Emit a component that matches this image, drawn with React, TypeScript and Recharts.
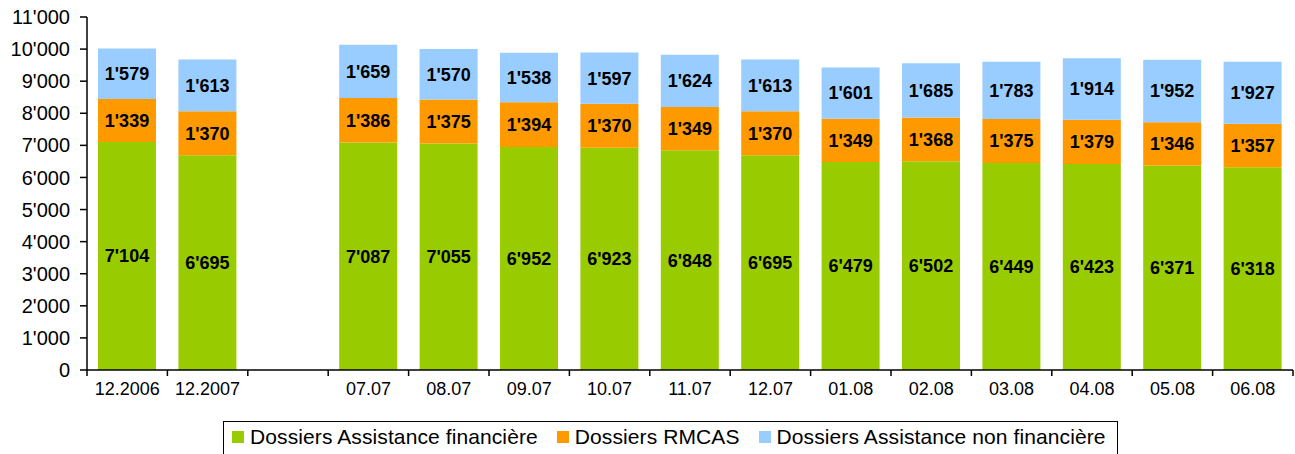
import { Bar, BarChart, LabelList, Legend, XAxis, YAxis } from "recharts";

const categories = [
	"12.2006",
	"12.2007",
	"",
	"07.07",
	"08.07",
	"09.07",
	"10.07",
	"11.07",
	"12.07",
	"01.08",
	"02.08",
	"03.08",
	"04.08",
	"05.08",
	"06.08",
];

const financiere = [
	7104, 6695, null, 7087, 7055, 6952, 6923, 6848, 6695, 6479, 6502, 6449, 6423,
	6371, 6318,
];
const rmcas = [
	1339, 1370, null, 1386, 1375, 1394, 1370, 1349, 1370, 1349, 1368, 1375, 1379,
	1346, 1357,
];
const nonFinanciere = [
	1579, 1613, null, 1659, 1570, 1538, 1597, 1624, 1613, 1601, 1685, 1783, 1914,
	1952, 1927,
];

const yTicks = [0, 1000, 2000, 3000, 4000, 5000, 6000, 7000, 8000, 9000, 10000, 11000];

const series = [
	{ key: "financiere", name: "Dossiers Assistance financière", color: "#99CC00" },
	{ key: "rmcas", name: "Dossiers RMCAS", color: "#FF9900" },
	{ key: "nonFinanciere", name: "Dossiers Assistance non financière", color: "#99CCFF" },
];

const data = categories.map((name, i) => ({
	name,
	financiere: financiere[i],
	rmcas: rmcas[i],
	nonFinanciere: nonFinanciere[i],
}));

const FONT = '"Liberation Sans", Arial, sans-serif';

function fmt(v: number | null | undefined) {
	if (v === null || v === undefined) return "";
	return String(v).replace(/\B(?=(\d{3})+(?!\d))/g, "'");
}

// ticks sit between categories, like the original spreadsheet chart
function CategoryTick(props: any) {
	const { x, y, payload, index, visibleTicksCount } = props;
	const half = payload?.offset ?? 40.2;
	const last = index === visibleTicksCount - 1;
	return (
		<g>
			<line x1={x - half} x2={x - half} y1={y - 12} y2={y - 6} stroke="#000" strokeWidth={1.5} />
			{last && (
				<line x1={x + half} x2={x + half} y1={y - 12} y2={y - 6} stroke="#000" strokeWidth={1.5} />
			)}
			<text x={x} y={y} dy="0.71em" textAnchor="middle" fill="#000" fontSize={18} fontFamily={FONT}>
				{payload.value}
			</text>
		</g>
	);
}

function LegendBox() {
	return (
		<div
			style={{
				border: "1.5px solid #000",
				height: 40,
				boxSizing: "border-box",
				display: "flex",
				alignItems: "flex-start",
				paddingLeft: 8,
				paddingTop: 4,
				fontFamily: FONT,
				fontSize: 21,
				letterSpacing: 0.1,
				lineHeight: "22px",
				color: "#000",
				background: "#fff",
				whiteSpace: "nowrap",
			}}
		>
			{series.map((s) => (
				<div
					key={s.key}
					style={{ display: "flex", alignItems: "center", marginRight: 19, flexShrink: 0 }}
				>
					<span
						style={{
							display: "inline-block",
							width: 12,
							height: 12,
							background: s.color,
							marginRight: 6,
						}}
					/>
					<span>{s.name}</span>
				</div>
			))}
		</div>
	);
}

export default function App() {
	return (
		<div style={{ position: "absolute", left: 0, top: 0, background: "#fff" }}>
			<BarChart
				width={1295}
				height={454}
				data={data}
				margin={{ top: 17, right: 2, left: 0, bottom: 0 }}
				barSize={58}
			>
				<XAxis
					dataKey="name"
					height={84}
					interval={0}
					stroke="#000"
					strokeWidth={1.5}
					tickLine={false}
					tickSize={6}
					tickMargin={6}
					tick={<CategoryTick />}
				/>
				<XAxis xAxisId="top" orientation="top" height={0} stroke="#808080" strokeWidth={2} tick={false} />
				<YAxis
					domain={[0, 11000]}
					ticks={yTicks}
					interval={0}
					width={87}
					stroke="#000"
					strokeWidth={1.5}
					tickSize={7}
					tickMargin={10}
					tickFormatter={fmt}
					tick={{ fill: "#000", fontSize: 20, fontFamily: FONT }}
				/>
				<YAxis yAxisId="right" orientation="right" width={0} stroke="#808080" strokeWidth={2} tick={false} />
				<Legend
					verticalAlign="middle"
					layout="horizontal"
					wrapperStyle={{ top: 421, left: 223, width: 895 }}
					content={<LegendBox />}
				/>
				{series.map((s) => (
					<Bar
						key={s.key}
						dataKey={s.key}
						name={s.name}
						stackId="a"
						fill={s.color}
						isAnimationActive={false}
					>
						<LabelList
							dataKey={s.key}
							position="center"
							formatter={(v: any) => fmt(v)}
							fill="#000"
							fontSize={18}
							fontWeight="bold"
							fontFamily={FONT}
						/>
					</Bar>
				))}
			</BarChart>
		</div>
	);
}
